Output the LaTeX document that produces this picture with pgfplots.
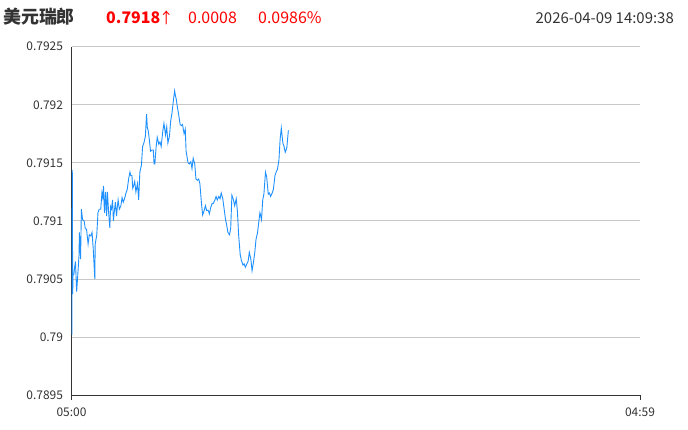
\documentclass[border=0pt]{standalone}
\usepackage{fontspec}
\setmainfont{Noto Sans CJK SC}
\usepackage{pgfplots}
\pgfplotsset{compat=1.18}
\definecolor{quote}{HTML}{1E90FF}
\definecolor{txt}{HTML}{333333}
\definecolor{upred}{HTML}{FF0000}

% USD/CHF intraday, minutes after 05:00
\pgfplotstableread{
t v
0 0.79020
1 0.79002
2 0.79144
3 0.79037
4 0.79054
6 0.79054
8 0.79060
10 0.79065
13 0.79039
16 0.79054
19 0.79070
20 0.79090
22 0.79075
23 0.79067
25 0.79110
28 0.79101
32 0.79100
35 0.79093
38 0.79093
42 0.79080
45 0.79088
49 0.79087
52 0.79090
55 0.79076
59 0.79050
60 0.79080
64 0.79088
67 0.79107
70 0.79110
74 0.79110
77 0.79124
79 0.79120
81 0.79130
83 0.79110
84 0.79107
86 0.79125
87 0.79121
89 0.79104
91 0.79125
94 0.79107
97 0.79094
99 0.79112
101 0.79110
104 0.79118
106 0.79100
108 0.79107
111 0.79116
114 0.79104
116 0.79112
118 0.79118
121 0.79110
125 0.79113
128 0.79120
131 0.79116
135 0.79120
138 0.79124
141 0.79127
145 0.79137
148 0.79142
150 0.79139
153 0.79139
155 0.79128
157 0.79130
160 0.79134
163 0.79125
167 0.79132
170 0.79118
173 0.79142
177 0.79148
180 0.79164
184 0.79168
187 0.79173
190 0.79192
192 0.79180
194 0.79178
197 0.79170
200 0.79160
204 0.79161
207 0.79161
209 0.79149
211 0.79149
214 0.79163
217 0.79172
221 0.79166
224 0.79168
227 0.79164
231 0.79177
234 0.79184
238 0.79174
241 0.79181
244 0.79167
248 0.79173
251 0.79186
254 0.79192
258 0.79204
261 0.79212
263 0.79208
265 0.79205
268 0.79198
271 0.79192
275 0.79183
278 0.79182
281 0.79183
285 0.79175
288 0.79179
290 0.79160
292 0.79156
295 0.79150
298 0.79149
302 0.79151
305 0.79145
308 0.79154
312 0.79149
315 0.79136
319 0.79135
322 0.79136
325 0.79132
329 0.79115
332 0.79105
335 0.79108
339 0.79113
342 0.79109
346 0.79109
349 0.79106
352 0.79111
356 0.79115
359 0.79115
363 0.79118
366 0.79121
369 0.79118
373 0.79121
376 0.79119
379 0.79124
383 0.79119
386 0.79111
390 0.79101
393 0.79096
396 0.79090
400 0.79088
403 0.79094
406 0.79122
410 0.79118
413 0.79113
417 0.79119
420 0.79108
423 0.79088
427 0.79071
430 0.79066
434 0.79062
437 0.79063
440 0.79060
444 0.79063
447 0.79065
450 0.79073
454 0.79067
457 0.79057
460 0.79063
464 0.79073
467 0.79084
471 0.79090
474 0.79099
477 0.79107
481 0.79101
484 0.79118
487 0.79123
491 0.79142
494 0.79138
498 0.79123
501 0.79124
504 0.79121
508 0.79124
511 0.79127
515 0.79139
518 0.79142
521 0.79144
525 0.79152
528 0.79170
531 0.79180
535 0.79167
538 0.79164
541 0.79159
545 0.79163
549 0.79178
}\usdchf

\begin{document}
\begin{tikzpicture}[x=1bp,y=1bp]
\path[use as bounding box] (0,0) rectangle (688,429);

% header
\node[anchor=base west, inner sep=0, text=txt, font=\bfseries\fontsize{18}{20}\selectfont] at (3,405) {美元瑞郎};
\node[anchor=base west, inner sep=0, text=upred, font=\bfseries\fontsize{16}{18}\selectfont] at (106,405) {0.7918\kern-1.5bp{\mdseries\fontsize{15}{17}\selectfont↑}};
\node[anchor=base west, inner sep=0, text=upred, font=\fontsize{16}{18}\selectfont] at (188,405) {0.0008};
\node[anchor=base west, inner sep=0, text=upred, font=\fontsize{16}{18}\selectfont] at (258,405) {0.0986\%};
\node[anchor=base east, inner sep=0, text=txt, font=\fontsize{15}{17}\selectfont] at (674,405) {2026-04-09 14:09:38};

\begin{axis}[
    at={(71.5bp,34bp)}, anchor=south west,
    scale only axis,
    width=568.5bp, height=348.3bp,
    xmin=0, xmax=1439,
    ymin=0.7895, ymax=0.7925,
    axis lines=left,
    axis line style={-, draw=txt, line width=0.8bp},
    xtick={0,1439},
    xticklabels={05:00,04:59},
    ytick={0.7895,0.79,0.7905,0.791,0.7915,0.792,0.7925},
    yticklabels={0.7895,0.79,0.7905,0.791,0.7915,0.792,0.7925},
    ymajorgrids,
    grid style={draw=black!22, line width=0.8bp},
    tick align=outside,
    major tick length=5bp,
    xtick style={draw=txt, line width=0.8bp},
    ytick style={draw=none},
    ticklabel style={font=\fontsize{12}{14}\selectfont, text=txt},
    xticklabel style={yshift=-4bp},
]
\addplot[quote, line width=0.9bp, mark=none] table[x=t, y=v] {\usdchf};
\end{axis}
\end{tikzpicture}
\end{document}
